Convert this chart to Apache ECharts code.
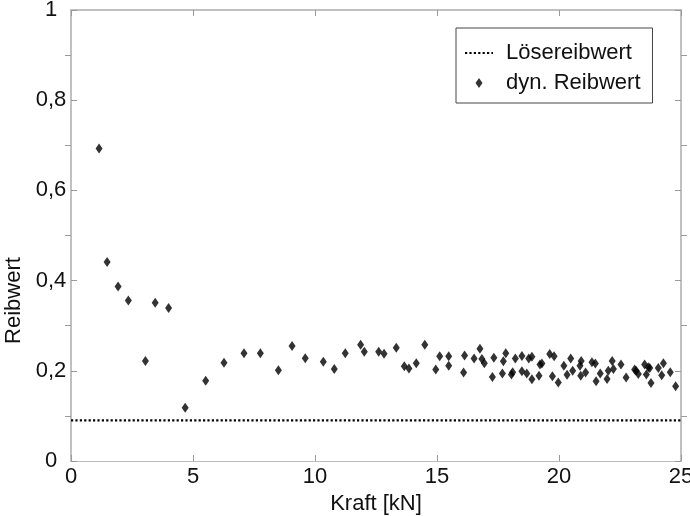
<!DOCTYPE html>
<html>
<head>
<meta charset="utf-8">
<script src="https://cdn.jsdelivr.net/npm/echarts@6/dist/echarts.min.js"></script>
<style>html,body{margin:0;padding:0;background:#fff;}#c{width:690px;height:516px;}</style>
</head>
<body>
<div id="c"></div>
<script>
const kraft = [1.15,1.48,1.93,2.35,3.05,3.45,4.00,4.68,5.52,6.27,7.09,7.76,8.50,9.06,9.60,
  10.34,10.79,11.24,11.87,12.02,12.61,12.83,13.33,13.66,13.85,14.15,14.50,14.95,15.11,15.48,15.48,
  16.09,16.13,16.52,16.76,16.84,16.94,17.27,17.33,17.68,17.72,17.82,18.05,18.10,18.21,18.48,18.48,
  18.68,18.76,18.89,18.89,19.18,19.22,19.30,19.62,19.73,19.80,19.97,20.20,20.33,20.48,20.56,20.86,
  20.89,20.91,21.09,21.35,21.49,21.52,21.69,21.97,22.02,22.18,22.23,22.54,22.75,23.10,23.16,23.25,
  23.51,23.58,23.66,23.72,23.77,24.07,24.21,24.28,24.56,24.78];
const reibwert = [0.693,0.441,0.387,0.356,0.222,0.351,0.339,0.118,0.178,0.218,0.239,0.239,0.201,0.255,0.228,
  0.220,0.204,0.239,0.258,0.242,0.242,0.238,0.251,0.210,0.205,0.217,0.258,0.203,0.232,0.232,0.211,
  0.196,0.234,0.227,0.249,0.226,0.217,0.186,0.229,0.194,0.221,0.239,0.192,0.197,0.227,0.233,0.199,
  0.194,0.227,0.231,0.181,0.189,0.214,0.216,0.237,0.188,0.232,0.174,0.211,0.191,0.227,0.200,0.211,
  0.189,0.222,0.196,0.219,0.216,0.177,0.194,0.182,0.200,0.222,0.204,0.214,0.185,0.203,0.200,0.193,
  0.214,0.192,0.208,0.206,0.173,0.206,0.190,0.217,0.197,0.166];
const loeseX = [0, 25];
const loeseY = [0.09, 0.09];
const xTicks = [0, 5, 10, 15, 20, 25];
const yTickLabels = ['0', '0,2', '0,4', '0,6', '0,8', '1'];

const FONT = 'Liberation Sans, Arial, sans-serif';
const chart = echarts.init(document.getElementById('c'), null, {renderer: 'canvas'});
const scatterData = kraft.map((x, i) => [x, reibwert[i]]);
const loeseData = loeseX.map((x, i) => [x, loeseY[i]]);

function yFmt(v) {
  const k = Math.round(v * 5);
  return yTickLabels[k] !== undefined ? yTickLabels[k] : '';
}

const tickStyle = {color: '#9a9a9a', width: 1};

chart.setOption({
  animation: false,
  backgroundColor: '#fff',
  grid: {left: 71, right: 9, top: 10, bottom: 55, containLabel: false, outerBoundsMode: 'none'},
  legend: {
    orient: 'vertical', left: 456, top: 28,
    padding: [14, 12, 9, 8], itemGap: 8,
    itemWidth: 28, itemHeight: 10,
    borderColor: '#444', borderWidth: 1, backgroundColor: '#fff',
    textStyle: {fontFamily: FONT, fontSize: 22, color: '#111', padding: [0, 0, 0, 8]},
    data: [
      {name: 'Lösereibwert', itemStyle: {opacity: 0}},
      {name: 'dyn. Reibwert', icon: 'path://M0,-5L3.5,0L0,5L-3.5,0Z'}
    ]
  },
  xAxis: [{
    type: 'value', min: 0, max: 25, interval: 5,
    name: 'Kraft [kN]', nameLocation: 'middle', nameGap: 26,
    nameTextStyle: {fontFamily: FONT, fontSize: 22, color: '#111'},
    axisLine: {show: true, onZero: false, lineStyle: {color: '#e8a8a8', width: 1}},
    axisTick: {show: true, inside: true, length: 6, lineStyle: tickStyle},
    axisLabel: {fontFamily: FONT, fontSize: 22, color: '#111', margin: 5},
    splitLine: {show: false}
  }, {
    type: 'value', min: 0, max: 25, interval: 5, position: 'top',
    axisLine: {show: true, onZero: false, lineStyle: {color: '#c0c0c0', width: 2}},
    axisTick: {show: true, inside: true, length: 6, lineStyle: tickStyle},
    axisLabel: {show: false}, splitLine: {show: false}
  }],
  yAxis: [{
    type: 'value', min: 0, max: 1, interval: 0.2,
    name: 'Reibwert', nameLocation: 'middle', nameGap: 39, nameRotate: 90,
    nameTextStyle: {fontFamily: FONT, fontSize: 22, color: '#111', padding: [0, 130, 0, 0]},
    axisLine: {show: true, onZero: false, lineStyle: {color: '#c0c0c0', width: 2}},
    axisTick: {show: true, inside: true, length: 6, lineStyle: tickStyle},
    minorTick: {show: true, splitNumber: 2, length: -6, lineStyle: tickStyle},
    axisLabel: {fontFamily: FONT, fontSize: 22, color: '#111', margin: 20, align: 'center', formatter: yFmt},
    splitLine: {show: false}
  }, {
    type: 'value', min: 0, max: 1, interval: 0.2, position: 'right',
    axisLine: {show: true, onZero: false, lineStyle: {color: '#c0c0c0', width: 2}},
    axisTick: {show: true, inside: true, length: 6, lineStyle: tickStyle},
    minorTick: {show: true, splitNumber: 2, length: -6, lineStyle: tickStyle},
    axisLabel: {show: false}, splitLine: {show: false}
  }],
  series: [{
    name: 'Lösereibwert', type: 'line', data: loeseData,
    symbol: 'none', silent: true,
    lineStyle: {color: '#000', width: 2.2, type: [2.2, 2.2]},
    itemStyle: {color: '#000'}
  }, {
    name: 'dyn. Reibwert', type: 'scatter', data: scatterData,
    symbol: 'diamond', symbolSize: [7, 10],
    itemStyle: {color: '#000'}
  }]
});
</script>
</body>
</html>
